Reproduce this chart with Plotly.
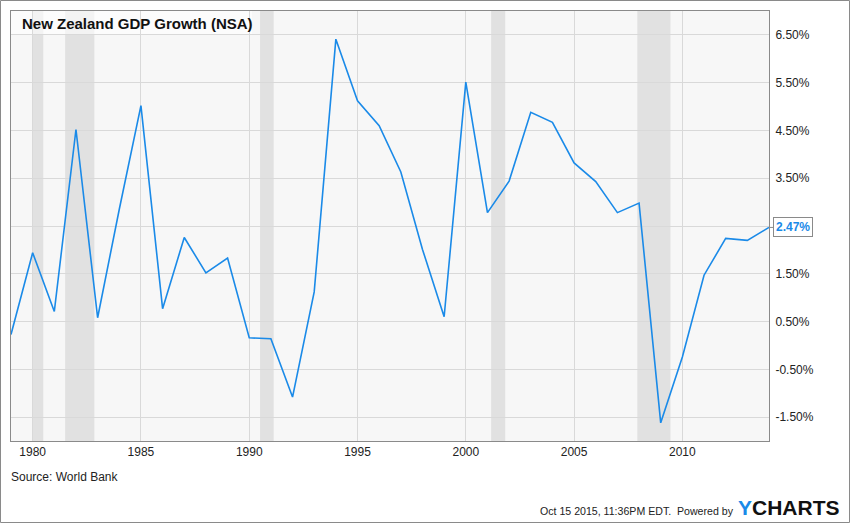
import plotly.graph_objects as go

# ---- data ----
years = list(range(1979, 2015))
gdp_growth = [0.23, 1.94, 0.71, 4.52, 0.58, 2.85, 5.02, 0.77, 2.26, 1.52,
              1.83, 0.16, 0.14, -1.08, 1.12, 6.41, 5.12, 4.60, 3.63, 2.01,
              0.60, 5.51, 2.78, 3.44, 4.88, 4.67, 3.82, 3.43, 2.78, 2.98,
              -1.62, -0.24, 1.47, 2.24, 2.20, 2.47]
recession_start = [1979.98, 1981.50, 1990.50, 2001.17, 2007.92]
recession_end = [1980.49, 1982.85, 1991.13, 2001.82, 2009.45]
y_tick_vals = [-1.5, -0.5, 0.5, 1.5, 2.5, 3.5, 4.5, 5.5, 6.5]
y_tick_text = ["-1.50%", "-0.50%", "0.50%", "1.50%", "", "3.50%", "4.50%", "5.50%", "6.50%"]
x_tick_vals = [1980, 1985, 1990, 1995, 2000, 2005, 2010]
x_tick_text = ["1980", "1985", "1990", "1995", "2000", "2005", "2010"]
last_label = "2.47%"

LINE = "#1a8ae8"
FONT = "Arial, Liberation Sans, sans-serif"

W, H = 850, 523
ML, MR, MT, MB = 11, 81, 11, 82
PW, PH = W - ML - MR, H - MT - MB

def px_x(p):
    return (p - ML) / PW

def px_y(p):
    return (H - MB - p) / PH

fig = go.Figure()
fig.add_trace(go.Scatter(x=years, y=gdp_growth, mode="lines",
                         line=dict(color=LINE, width=1.6), hoverinfo="skip",
                         showlegend=False, cliponaxis=False))

shapes = []
for s, e in zip(recession_start, recession_end):
    shapes.append(dict(type="rect", xref="x", yref="paper", x0=s, x1=e, y0=0, y1=1,
                       fillcolor="#e1e1e1", line=dict(width=0), layer="below"))
# title backdrop
shapes.append(dict(type="rect", xref="paper", yref="paper", x0=0, x1=px_x(252),
                   y0=px_y(34), y1=1, fillcolor="rgba(255,255,255,0.6)",
                   line=dict(width=0), layer="between"))
# outer border
shapes.append(dict(type="rect", xref="paper", yref="paper", x0=px_x(0.5), x1=px_x(849.5),
                   y0=px_y(522.5), y1=px_y(0.5), line=dict(color="#8a8a8a", width=1),
                   fillcolor="rgba(0,0,0,0)", layer="above"))

annotations = [
    dict(text="<b>New Zealand GDP Growth (NSA)</b>", xref="paper", yref="paper",
         x=px_x(20), y=px_y(23), xanchor="left", yanchor="middle", showarrow=False,
         font=dict(family=FONT, size=15, color="#111")),
    dict(text="Source: World Bank", xref="paper", yref="paper",
         x=px_x(9), y=px_y(477), xanchor="left", yanchor="middle", showarrow=False,
         font=dict(family=FONT, size=12, color="#222")),
    dict(text="Oct 15 2015, 11:36PM EDT.  Powered by", xref="paper", yref="paper",
         x=px_x(736), y=px_y(511), xanchor="right", yanchor="middle", showarrow=False,
         font=dict(family=FONT, size=10.6, color="#222")),
    dict(text="<span style='color:#1a8ae8'>Y</span>CHARTS", xref="paper", yref="paper",
         x=px_x(736), y=px_y(507), xanchor="left", yanchor="middle", showarrow=False,
         font=dict(family=FONT, size=21, color="#111", weight="bold")),
    dict(text="<b>" + last_label + "</b>", x=years[-1], y=gdp_growth[-1], xref="x", yref="y",
         showarrow=True, ax=24, ay=0, arrowhead=0, arrowwidth=1, arrowcolor="#8a8a8a",
         standoff=0, bgcolor="white", bordercolor="#8a8a8a", borderwidth=1, borderpad=2,
         font=dict(family=FONT, size=12, color=LINE)),
]

fig.update_layout(
    width=W, height=H,
    margin=dict(l=ML, r=MR, t=MT, b=MB),
    paper_bgcolor="white", plot_bgcolor="#f7f7f7",
    shapes=shapes, annotations=annotations,
    font=dict(family=FONT, size=12, color="#333"),
    xaxis=dict(range=[1979, 2014], tickvals=x_tick_vals, ticktext=x_tick_text,
               showgrid=True, gridcolor="#d9d9d9", gridwidth=1, zeroline=False,
               showline=True, mirror=True, linecolor="#8a8a8a", linewidth=1,
               ticks="", tickfont=dict(family=FONT, size=12, color="#222"),
               fixedrange=True),
    yaxis=dict(range=[-2, 7], side="right", tickvals=y_tick_vals, ticktext=y_tick_text,
               showgrid=True, gridcolor="#d9d9d9", gridwidth=1, zeroline=False,
               showline=True, mirror=True, linecolor="#8a8a8a", linewidth=1,
               ticks="", ticklabelstandoff=3,
               tickfont=dict(family=FONT, size=12, color="#222"), fixedrange=True),
)

fig.write_html("out.html", config={"displayModeBar": False},
               post_script="document.body.style.margin='0';document.body.style.overflow='hidden';")
